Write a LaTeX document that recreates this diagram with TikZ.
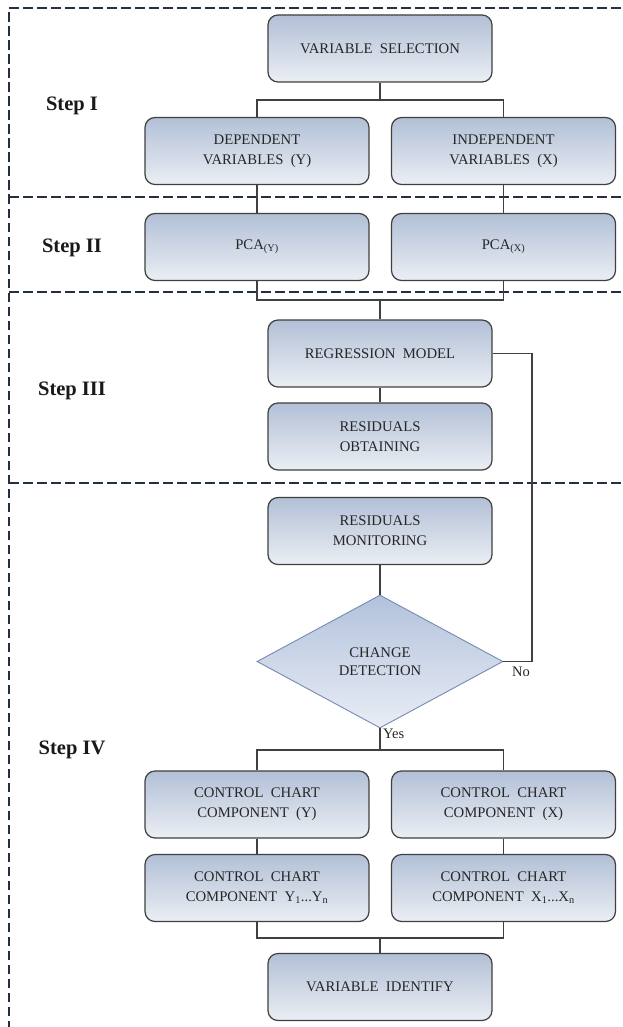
\documentclass[tikz,border=0pt]{standalone}
\usepackage{fontspec}
\setmainfont{Liberation Serif}
\usetikzlibrary{shapes.geometric}
\definecolor{boxtop}{RGB}{178,192,214}
\definecolor{boxbot}{RGB}{235,238,244}
\definecolor{diatop}{RGB}{178,194,220}
\definecolor{diabot}{RGB}{233,237,245}
\definecolor{edge}{RGB}{64,64,64}
\definecolor{framecol}{RGB}{36,48,64}
\definecolor{diaedge}{RGB}{118,138,178}
\begin{document}
\begin{tikzpicture}[x=1pt,y=-1pt,
  stepbox/.style={draw=edge, line width=1.2pt, rounded corners=10pt,
    top color=boxtop, bottom color=boxbot,
    minimum width=224pt, minimum height=67pt, inner sep=0pt,
    align=center, font=\fontsize{14.7}{20}\selectfont, text=black!85},
  decision/.style={diamond, shape aspect=1.85, draw=diaedge, line width=0.9pt,
    top color=diatop, bottom color=diabot,
    minimum width=246pt, minimum height=133pt, inner sep=0pt,
    align=center, font=\fontsize{14.7}{18}\selectfont, text=black!85},
  link/.style={draw=edge, line width=1.2pt},
  sepline/.style={draw=framecol, line width=2.5pt, dash pattern=on 9.5pt off 4.5pt},
  steplabel/.style={font=\fontsize{20.5}{24}\selectfont\bfseries, anchor=base, text=black!90},
  answer/.style={font=\fontsize{14.5}{16}\selectfont, text=black!85}]
\useasboundingbox (0,0) rectangle (622,1027);
\fill[white] (0,0) rectangle (622,1027);

% dashed frame and stage separators
\draw[sepline] (9,1030) -- (9,8) -- (630,8);
\draw[sepline] (9,197) -- (630,197);
\draw[sepline] (9,292) -- (630,292);
\draw[sepline] (9,483) -- (630,483);

% stage labels
\node[steplabel] (s1) at (72,111) {Step I};
\node[steplabel] (s2) at (72,252) {Step II};
\node[steplabel] (s3) at (72,395) {Step III};
\node[steplabel] (s4) at (72,754) {Step IV};

% process boxes
\node[stepbox] (vs)   at (380,48.5)  {VARIABLE~~SELECTION};
\node[stepbox] (dep)  at (257,151)   {DEPENDENT\\VARIABLES~~(Y)};
\node[stepbox] (ind)  at (503.5,151) {INDEPENDENT\\VARIABLES~~(X)};
\node[stepbox] (pcay) at (257,247)   {PCA\textsubscript{(Y)}};
\node[stepbox] (pcax) at (503.5,247) {PCA\textsubscript{(X)}};
\node[stepbox] (reg)  at (380,353.5) {REGRESSION~~MODEL};
\node[stepbox] (obt)  at (380,436.5) {RESIDUALS\\OBTAINING};
\node[stepbox] (mon)  at (380,531)   {RESIDUALS\\MONITORING};
\node[decision] (dia) at (380,661.5) {CHANGE\\DETECTION};
\node[stepbox] (ccy)  at (257,804.5) {CONTROL~~CHART\\COMPONENT~~(Y)};
\node[stepbox] (ccx)  at (503.5,804.5) {CONTROL~~CHART\\COMPONENT~~(X)};
\node[stepbox] (cny)  at (257,888)   {CONTROL~~CHART\\COMPONENT~~Y\textsubscript{1}...Y\textsubscript{n}};
\node[stepbox] (cnx)  at (503.5,888) {CONTROL~~CHART\\COMPONENT~~X\textsubscript{1}...X\textsubscript{n}};
\node[stepbox] (vi)   at (380,987)   {VARIABLE~~IDENTIFY};

% junction points
\coordinate (b1) at (380,100);
\coordinate (m1) at (380,300);
\coordinate (fb) at (532,661.5);
\coordinate (b2) at (380,750);
\coordinate (m2) at (380,938);

% connectors
\draw[link] (vs.south) -- (b1);
\draw[link] (dep.north) |- (b1) -| (ind.north);
\draw[link] (dep.south) -- (pcay.north);
\draw[link] (ind.south) -- (pcax.north);
\draw[link] (pcay.south) |- (m1) -| (pcax.south);
\draw[link] (m1) -- (reg.north);
\draw[link] (reg.south) -- (obt.north);
\draw[link] (mon.south) -- (dia.north);
\draw[link] (dia.east) -- (fb) |- (reg.east);
\draw[link] (dia.south) -- (b2);
\draw[link] (ccy.north) |- (b2) -| (ccx.north);
\draw[link] (ccy.south) -- (cny.north);
\draw[link] (ccx.south) -- (cnx.north);
\draw[link] (cny.south) |- (m2) -| (cnx.south);
\draw[link] (m2) -- (vi.north);

% decision answers
\node[answer, anchor=north west, inner sep=0pt] (no)  at (512,667) {No};
\node[answer, anchor=north west, inner sep=0pt] (yes) at (383,729) {Yes};
\end{tikzpicture}
\end{document}
